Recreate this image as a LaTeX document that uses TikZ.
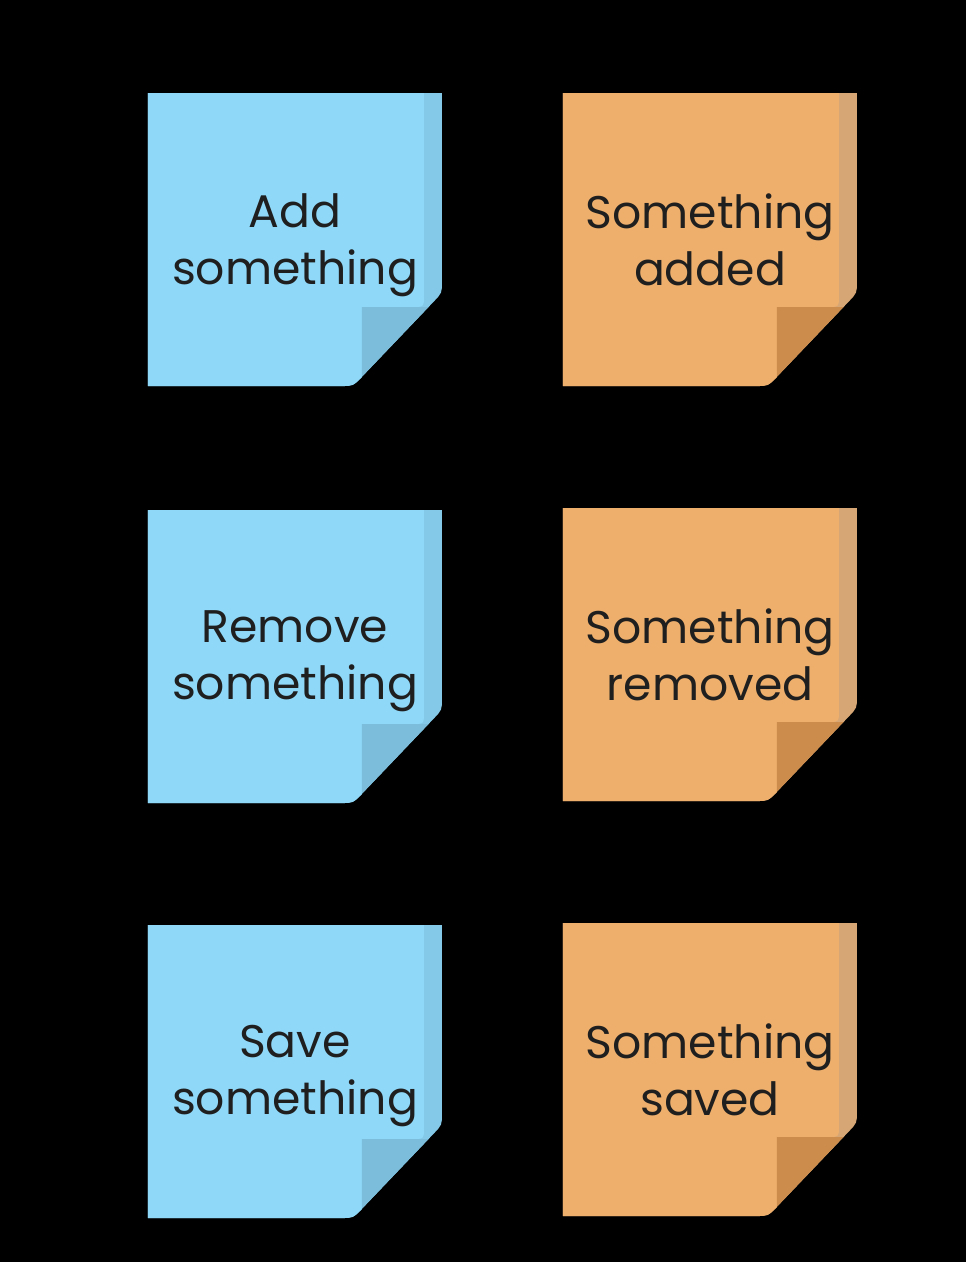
\documentclass[tikz,border=0pt]{standalone}
\usepackage{fontspec}
\setmainfont{Poppins}
\usepackage{tikz}
\usetikzlibrary{calc,positioning}

\definecolor{cmdface}{HTML}{8FD8F8}
\definecolor{cmdside}{HTML}{84CAE8}
\definecolor{cmdfold}{HTML}{7BBDDB}
\definecolor{evtface}{HTML}{EEAF6C}
\definecolor{evtside}{HTML}{D6A675}
\definecolor{evtfold}{HTML}{CC8C4C}
\definecolor{notetext}{HTML}{1F1F1F}

\newcommand{\notefont}{\fontsize{13}{16.2}\selectfont}

\tikzset{
  pics/sticky/.style n args={3}{code={
    \fill[#2] (0,0) -- (294,0) -- (294,188) .. controls (294,200) .. (285.7,208.6) -- (213.3,284.4) .. controls (205,293) .. (193,293) -- (0,293) -- cycle;
    \fill[#1] (0,0) -- (276,0) -- (276,202) .. controls (276,214) .. (264,214) -- (214,214) -- (214,284) .. controls (205,293) .. (193,293) -- (0,293) -- cycle;
    \fill[#3] (214,214) -- (280.5,214) -- (214,283.7) -- cycle;
  }},
  notelabel/.style={font=\notefont, text=notetext, align=center}
}

\begin{document}
\begin{tikzpicture}[x=0.01cm,y=-0.01cm]
                \fill[black] (0,0) rectangle (966,1262);
                % commands
                \pic at (148,93)  {sticky={cmdface}{cmdside}{cmdfold}};
                \pic at (148,510) {sticky={cmdface}{cmdside}{cmdfold}};
                \pic at (148,925) {sticky={cmdface}{cmdside}{cmdfold}};
                % events
                \pic at (563,93)  {sticky={evtface}{evtside}{evtfold}};
                \pic at (563,508) {sticky={evtface}{evtside}{evtfold}};
                \pic at (563,923) {sticky={evtface}{evtside}{evtfold}};
                \node[notelabel] (cmdadd)    at (295,245)  {Add\\something};
                \node[notelabel] (cmdremove) at (295,661)  {Remove\\something};
                \node[notelabel] (cmdsave)   at (295,1076) {Save\\something};
                \node[notelabel] (evtadded)   at (710,240)  {Something\\added};
                \node[notelabel] (evtremoved) at (710,655)  {Something\\removed};
                \node[notelabel] (evtsaved)   at (710,1070) {Something\\saved};
            \end{tikzpicture}
\end{document}
